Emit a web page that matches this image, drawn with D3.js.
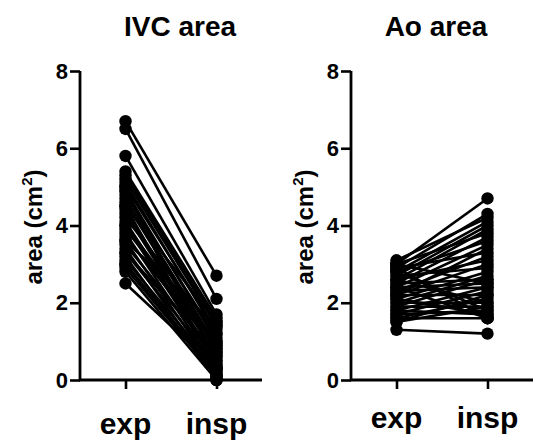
<!DOCTYPE html>
<html>
<head>
<meta charset="utf-8">
<script src="https://cdn.jsdelivr.net/npm/d3@7"></script>
<style>
  body { margin: 0; background: #fff; }
  svg text { font-family: "Liberation Sans", Arial, sans-serif; font-weight: bold; fill: #000; }
</style>
</head>
<body>
<svg id="chart" width="547" height="442"></svg>
<script>
(function () {
    var groups = ["exp", "insp"];
    var yTicks = [0, 2, 4, 6, 8];

    // IVC area, paired values (cm2)
    var ivcExp = [6.7, 6.5, 5.8, 5.4, 5.3, 5.2, 5.1, 5.0, 4.9, 4.8, 4.7, 4.6, 4.5, 4.4, 4.3, 4.2, 4.1, 4.0, 3.9,
        3.8, 3.7, 3.6, 3.5, 3.4, 3.3, 3.2, 3.1, 3.0, 2.9, 2.8, 3.6, 4.0, 4.5, 3.3, 2.5, 4.9, 3.0, 5.0];
    var ivcInsp = [2.7, 2.1, 1.7, 1.6, 1.5, 1.4, 1.2, 1.3, 1.0, 1.1, 0.9, 0.8, 1.5, 0.7, 0.6, 1.2, 0.5, 0.4, 1.0,
        0.3, 0.8, 0.2, 0.6, 0.1, 0.4, 0.0, 0.3, 0.2, 0.1, 0.0, 1.4, 0.9, 0.3, 0.7, 0.3, 0.5, 0.1, 0.0];

    // Ao area, paired values (cm2)
    var aoExp = [3.0, 2.9, 3.1, 2.8, 2.7, 2.6, 3.0, 2.5, 2.8, 2.4, 2.9, 2.3, 2.6, 2.2, 2.7, 2.1, 2.0, 2.5, 1.9, 2.4,
        1.8, 2.3, 1.7, 2.2, 1.6, 2.0, 2.6, 1.9, 2.8, 1.7, 2.1, 1.8, 2.4, 1.6, 1.5, 3.0, 2.2, 1.3, 1.5, 2.9];
    var aoInsp = [4.7, 4.3, 4.2, 4.1, 4.0, 3.9, 3.8, 3.7, 3.6, 3.5, 3.3, 3.2, 3.1, 3.0, 2.9, 2.8, 2.7, 2.6, 2.6, 2.5,
        2.4, 2.4, 2.3, 2.2, 2.1, 2.0, 2.0, 1.9, 1.8, 1.8, 1.7, 1.7, 1.6, 1.6, 1.9, 2.5, 3.4, 1.2, 2.2, 1.6];

    var svg = d3.select("#chart");

    function drawPanel(originX, title, titleX, expVals, inspVals, labelY) {
        var g = svg.append("g").attr("transform", "translate(" + originX + ",0)");

        var x = d3.scalePoint().domain(groups).range([0, 182]).padding(0.5);
        var y = d3.scaleLinear().domain([0, 8]).range([380, 71]);

        var pairs = expVals.map(function (v, i) {
            return [v, inspVals[i]];
        });

        // lines between paired points
        g.selectAll(".pair")
            .data(pairs)
            .enter()
            .append("line")
            .attr("class", "pair")
            .attr("x1", x("exp"))
            .attr("x2", x("insp"))
            .attr("y1", function (d) { return y(d[0]); })
            .attr("y2", function (d) { return y(d[1]); })
            .attr("stroke", "#000")
            .attr("stroke-width", 2.6);

        // points
        groups.forEach(function (grp, k) {
            g.selectAll(".pt-" + grp)
                .data(pairs)
                .enter()
                .append("circle")
                .attr("cx", x(grp))
                .attr("cy", function (d) { return y(d[k]); })
                .attr("r", 6.2)
                .attr("fill", "#000");
        });

        // y axis
        var gy = g.append("g")
            .call(d3.axisLeft(y).tickValues(yTicks).tickSize(10).tickPadding(2).tickFormat(d3.format("d")));
        gy.select(".domain").attr("stroke-width", 2.8).attr("d", "M0," + y(8) + "V" + y(0));
        gy.selectAll(".tick line").attr("stroke-width", 2.6);
        gy.selectAll(".tick text").style("font-size", "22px");

        // x axis
        var gx = g.append("g")
            .attr("transform", "translate(0," + y(0) + ")")
            .call(d3.axisBottom(x).tickSize(9).tickFormat(""));
        gx.select(".domain").attr("stroke-width", 2.8).attr("d", "M-1,0H182");
        gx.selectAll(".tick line").attr("stroke-width", 2.6);

        gx.selectAll(".xlab")
            .data(groups)
            .enter()
            .append("text")
            .attr("class", "xlab")
            .attr("x", function (d) { return x(d); })
            .attr("y", labelY - y(0))
            .attr("text-anchor", "middle")
            .style("font-size", "30px")
            .text(function (d) { return d; });

        // title
        g.append("text")
            .attr("x", titleX)
            .attr("y", 36)
            .attr("text-anchor", "middle")
            .style("font-size", "28px")
            .text(title);

        // y label
        var yl = g.append("text")
            .attr("transform", "translate(-38," + 227 + ") rotate(-90)")
            .attr("text-anchor", "middle")
            .style("font-size", "24px");
        yl.append("tspan").text("area (cm");
        yl.append("tspan").attr("dy", -10).style("font-size", "15px").text("2");
        yl.append("tspan").attr("dy", 10).text(")");
    }

    drawPanel(80, "IVC area", 100, ivcExp, ivcInsp, 434);
    drawPanel(351, "Ao area", 85, aoExp, aoInsp, 428);
})();
</script>
</body>
</html>
